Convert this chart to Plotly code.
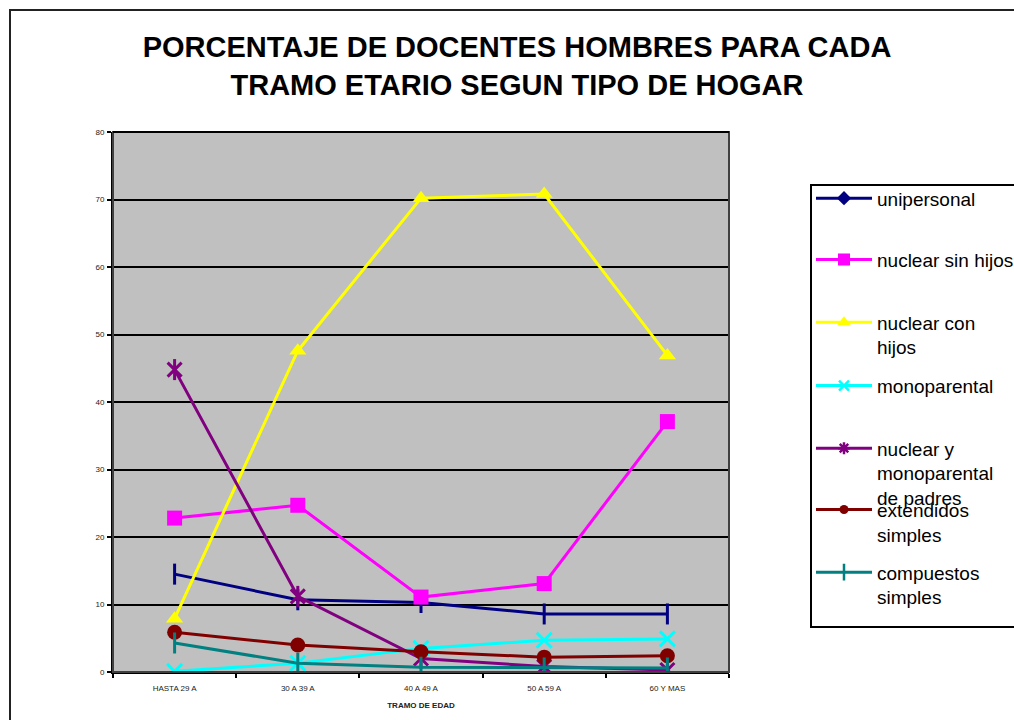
import plotly.graph_objects as go

categories = ["HASTA 29 A", "30 A 39 A", "40 A 49 A", "50 A 59 A", "60 Y MAS"]
series_names = ["unipersonal", "nuclear sin hijos", "nuclear con<br>hijos", "monoparental",
                "nuclear y<br>monoparental<br>de padres", "extendidos<br>simples", "compuestos<br>simples"]
unipersonal = [14.5, 10.7, 10.3, 8.6, 8.6]
nuclear_sin_hijos = [22.8, 24.7, 11.1, 13.1, 37.1]
nuclear_con_hijos = [7.9, 47.6, 70.2, 70.8, 46.9]
monoparental = [0.1, 1.3, 3.5, 4.7, 4.9]
nuclear_y_monoparental = [44.8, 11.2, 2.0, 0.8, 0.3]
extendidos_simples = [5.9, 4.0, 3.0, 2.2, 2.4]
compuestos_simples = [4.3, 1.3, 0.7, 0.6, 0.6]

values = [unipersonal, nuclear_sin_hijos, nuclear_con_hijos, monoparental,
          nuclear_y_monoparental, extendidos_simples, compuestos_simples]
colors = ["#000080", "#FF00FF", "#FFFF00", "#00FFFF", "#800080", "#800000", "#008080"]
plot_symbols = ["line-ns", "square", "triangle-up", "x-thin", "x-thin", "circle", "line-ns"]
plot_sizes = [15, 15, 15, 15, 14, 15, 15]
legend_symbols = ["diamond", "square", "triangle-up", "x-thin", "asterisk", "circle", "line-ns"]
legend_sizes = [11, 12, 12, 10, 10, 9, 12]

W, H = 1014, 720
PL, PR, PT, PB = 113, 729, 132, 672  # plot area in page px
L, T = PL, PT
R, B = W - PR, H - PB
pw, ph = PR - PL, PB - PT

def px_x(p):
    return (p - PL) / pw

def px_y(p):
    return (PB - p) / ph

fig = go.Figure()

for i, (name, vals) in enumerate(zip(series_names, values)):
    sym = plot_symbols[i]
    thin = sym in ("line-ns", "x-thin")
    fig.add_trace(go.Scatter(
        x=categories, y=vals, mode="lines+markers", showlegend=False,
        line=dict(color=colors[i], width=3),
        marker=dict(symbol=sym, size=plot_sizes[i], color=colors[i],
                    line=dict(color=colors[i], width=3 if thin else 0)),
        hoverinfo="skip"))
    if i == 4:
        # star marker: x plus vertical bar
        fig.add_trace(go.Scatter(
            x=categories, y=vals, mode="markers", showlegend=False,
            marker=dict(symbol="line-ns", size=15, color=colors[i],
                        line=dict(color=colors[i], width=3)),
            hoverinfo="skip"))

legend_sym_y = [199.3, 260.7, 323.3, 386.7, 449.3, 510.7, 573.3]
legend_layouts = {}
for i, name in enumerate(series_names):
    key = "legend" if i == 0 else f"legend{i + 1}"
    sym = legend_symbols[i]
    thin = sym in ("line-ns", "x-thin", "asterisk")
    fig.add_trace(go.Scatter(
        x=[None], y=[None], mode="lines+markers", name=name, legend=key,
        line=dict(color=colors[i], width=3),
        marker=dict(symbol=sym, size=legend_sizes[i], color=colors[i],
                    line=dict(color=colors[i], width=2.5 if thin else 0))))
    legend_layouts[key] = dict(
        x=px_x(811), y=px_y(legend_sym_y[i] - 20), xanchor="left", yanchor="top",
        bgcolor="rgba(0,0,0,0)", borderwidth=0, valign="top", itemwidth=56,
        font=dict(family="Liberation Sans, Arial, sans-serif", size=19, color="#000000"))

fig.update_layout(
    width=W, height=H,
    margin=dict(l=L, r=R, t=T, b=B, autoexpand=False),
    paper_bgcolor="#FFFFFF", plot_bgcolor="#C0C0C0",
    font=dict(family="Liberation Sans, Arial, sans-serif", color="#000000"),
    title=dict(text="<b>PORCENTAJE DE DOCENTES HOMBRES PARA CADA<br>TRAMO ETARIO SEGUN TIPO DE HOGAR</b>",
               x=517 / W, xref="container", xanchor="center",
               y=1 - 57 / H, yref="container", yanchor="middle",
               font=dict(size=29, color="#000000")),
    xaxis=dict(type="category", range=[-0.5, 4.5], tickson="boundaries",
               ticks="outside", ticklen=4, tickwidth=2, tickcolor="#000000",
               showline=True, linecolor="#000000", linewidth=2, showgrid=False,
               ticklabelstandoff=7,
               tickfont=dict(size=8, color="#222222"),
               title=dict(text="<b>TRAMO DE EDAD</b>", font=dict(size=8, color="#222222"), standoff=11)),
    yaxis=dict(range=[0, 80], dtick=10, ticks="outside", ticklen=4, tickwidth=2,
               tickcolor="#000000", showline=True, linecolor="#000000", linewidth=2,
               showgrid=True, gridcolor="#000000", gridwidth=1.5, zeroline=False,
               ticklabelstandoff=1,
               tickfont=dict(size=8, color="#222222")),
    shapes=[
        dict(type="rect", xref="paper", yref="paper", x0=0, x1=1, y0=0, y1=1,
             line=dict(color="#404040", width=2), layer="above"),
        dict(type="line", xref="paper", yref="paper", x0=0, x1=1, y0=1, y1=1,
             line=dict(color="#000000", width=2), layer="above"),
        dict(type="rect", xref="paper", yref="paper", x0=px_x(811), x1=px_x(1100),
             y0=px_y(627), y1=px_y(185), line=dict(color="#000000", width=2)),
        dict(type="rect", xref="paper", yref="paper", x0=px_x(10), x1=px_x(1100),
             y0=px_y(800), y1=px_y(10), line=dict(color="#222222", width=2)),
    ],
    **legend_layouts,
)

fig.write_html("out.html", config={"displayModeBar": False},
               post_script="document.body.style.margin='0';document.body.style.overflow='hidden';")
